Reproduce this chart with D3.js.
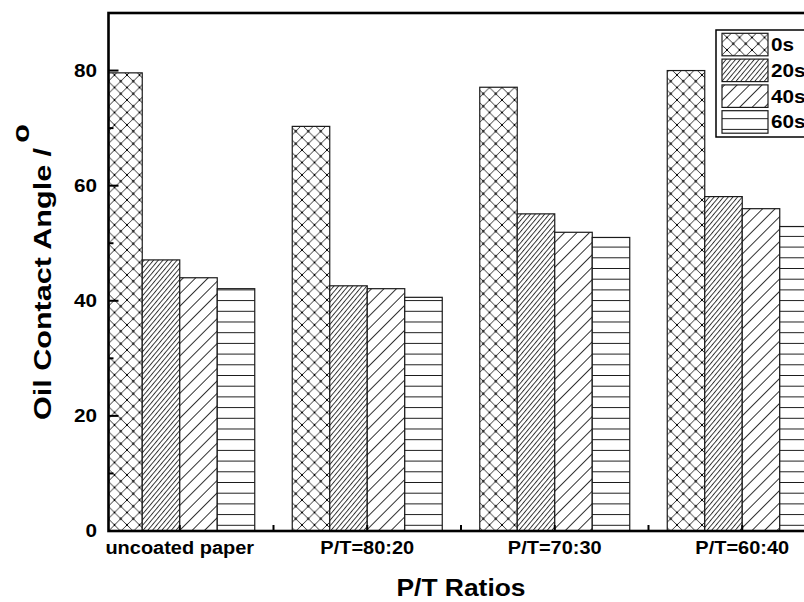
<!DOCTYPE html>
<html><head><meta charset="utf-8">
<script src="https://cdn.jsdelivr.net/npm/d3@7"></script>
<style>html,body{margin:0;padding:0;overflow:hidden;background:#fff}</style>
</head><body><svg id="c" width="804" height="602"></svg>
<script>
const categories = ["uncoated paper", "P/T=80:20", "P/T=70:30", "P/T=60:40"];
const seriesNames = ["0s", "20s", "40s", "60s"];
const values0s  = [79.6, 70.3, 77.1, 80.0];
const values20s = [47.1, 42.6, 55.1, 58.1];
const values40s = [44.0, 42.1, 51.9, 56.0];
const values60s = [42.1, 40.6, 51.0, 52.9];
const yTicks = [0, 20, 40, 60, 80];
const yMinorTicks = [10, 30, 50, 70];

const seriesValues = [values0s, values20s, values40s, values60s];
const patternIds = ["pCross", "pDense", "pSparse", "pHoriz"];

const svg = d3.select("#c");
const FONT = "'Liberation Sans', Arial, sans-serif";
const L = 108.5, T = 13, B = 531;
const x = d3.scaleLinear().domain([0.62, 4.45]).range([L, L + 3.83 * 187.5]);
const y = d3.scaleLinear().domain([0, 90]).range([B, T]);
const R = x.range()[1];

// patterns
const defs = svg.append("defs");
const ink = "#1a1a1a";
{
  const p = defs.append("pattern").attr("id", "pCross").attr("patternUnits", "userSpaceOnUse")
    .attr("width", 12.5).attr("height", 12.5).attr("x", 2).attr("y", 0);
  p.append("rect").attr("width", 12.5).attr("height", 12.5).attr("fill", "#fff");
  p.append("path").attr("d", "M0,0L12.5,12.5M12.5,0L0,12.5").attr("stroke", ink).attr("stroke-width", 0.9);
  [[6.25, 6.25], [0, 0], [12.5, 0], [0, 12.5], [12.5, 12.5]].forEach(([cx, cy]) =>
    p.append("circle").attr("cx", cx).attr("cy", cy).attr("r", 1.1).attr("fill", "#000"));
}
{
  const p = defs.append("pattern").attr("id", "pDense").attr("patternUnits", "userSpaceOnUse")
    .attr("width", 3.6).attr("height", 10).attr("patternTransform", "rotate(40)");
  p.append("rect").attr("width", 3.6).attr("height", 10).attr("fill", "#fff");
  p.append("path").attr("d", "M0.5,0V10").attr("stroke", ink).attr("stroke-width", 0.9);
}
{
  const p = defs.append("pattern").attr("id", "pSparse").attr("patternUnits", "userSpaceOnUse")
    .attr("width", 8.8).attr("height", 10).attr("patternTransform", "rotate(45)");
  p.append("rect").attr("width", 8.8).attr("height", 10).attr("fill", "#fff");
  p.append("path").attr("d", "M0.5,0V10").attr("stroke", ink).attr("stroke-width", 0.9);
}
{
  const p = defs.append("pattern").attr("id", "pHoriz").attr("patternUnits", "userSpaceOnUse")
    .attr("width", 10).attr("height", 10.7).attr("y", 0.5);
  p.append("rect").attr("width", 10).attr("height", 10.7).attr("fill", "#fff");
  p.append("path").attr("d", "M0,0.5H10").attr("stroke", ink).attr("stroke-width", 1);
}
defs.append("clipPath").attr("id", "plotClip").append("rect")
  .attr("x", L).attr("y", T).attr("width", R - L).attr("height", B - T);

// bars
const barW = 0.2;
const gBars = svg.append("g").attr("clip-path", "url(#plotClip)");
seriesValues.forEach((vals, si) => {
  gBars.selectAll(null).data(vals).enter().append("rect")
    .attr("x", (d, i) => x(i + 1 - 0.4 + si * barW))
    .attr("width", (d, i) => x(i + 1 - 0.4 + (si + 1) * barW) - x(i + 1 - 0.4 + si * barW))
    .attr("y", d => y(d))
    .attr("height", d => y(0) - y(d))
    .attr("fill", `url(#${patternIds[si]})`)
    .attr("stroke", ink).attr("stroke-width", 1.2);
});

// frame
svg.append("rect").attr("x", L).attr("y", T).attr("width", R - L).attr("height", B - T)
  .attr("fill", "none").attr("stroke", "#000").attr("stroke-width", 2.6);

// y ticks
const gy = svg.append("g");
gy.selectAll(null).data(yTicks).enter().append("line")
  .attr("x1", L).attr("x2", L + 10).attr("y1", d => y(d)).attr("y2", d => y(d))
  .attr("stroke", "#000").attr("stroke-width", 2);
gy.selectAll(null).data(yMinorTicks).enter().append("line")
  .attr("x1", L).attr("x2", L + 5).attr("y1", d => y(d)).attr("y2", d => y(d))
  .attr("stroke", "#000").attr("stroke-width", 2);
gy.selectAll(null).data(yTicks).enter().append("text")
  .attr("transform", d => `translate(97,${y(d)}) scale(1.15,1)`)
  .attr("text-anchor", "end").attr("dy", "0.36em")
  .attr("font-family", FONT).attr("font-weight", "bold").attr("font-size", 18)
  .text(d => d);

// x ticks
const xMajor = categories.map((c, i) => i + 1);
const xMinor = categories.slice(1).map((c, i) => i + 1.5);
const gx = svg.append("g");
gx.selectAll(null).data(xMajor.concat(xMinor)).enter().append("line")
  .attr("x1", d => x(d)).attr("x2", d => x(d)).attr("y1", B).attr("y2", B - 6)
  .attr("stroke", "#000").attr("stroke-width", 2);
gx.selectAll(null).data(categories).enter().append("text")
  .attr("transform", (d, i) => `translate(${x(i + 1)},554) scale(1.08,1)`)
  .attr("text-anchor", "middle")
  .attr("font-family", FONT).attr("font-weight", "bold").attr("font-size", 18.5)
  .text(d => d);

// axis titles
svg.append("text")
  .attr("transform", `translate(461,596) scale(1.1,1)`)
  .attr("text-anchor", "middle")
  .attr("font-family", FONT).attr("font-weight", "bold").attr("font-size", 24)
  .text("P/T Ratios");
const yt = svg.append("text")
  .attr("transform", "translate(51,420) rotate(-90) scale(1.3,1)")
  .attr("font-family", FONT).attr("font-weight", "bold").attr("font-size", 23.5);
yt.append("tspan").text("Oil Contact Angle /");
yt.append("tspan").attr("dx", 4).attr("dy", -22).text("o");

// legend
const lg = svg.append("g");
lg.append("rect").attr("x", 716).attr("y", 30).attr("width", 130).attr("height", 107)
  .attr("fill", "#fff").attr("stroke", "#000").attr("stroke-width", 1.5);
seriesNames.forEach((name, i) => {
  const top = 33.3 + i * 25.8;
  lg.append("rect").attr("x", 722).attr("y", top).attr("width", 46).attr("height", 22.5)
    .attr("fill", `url(#${patternIds[i]})`).attr("stroke", ink).attr("stroke-width", 1.2);
  lg.append("text")
    .attr("transform", `translate(771,${top + 11.3}) scale(1.15,1)`)
    .attr("dy", "0.36em")
    .attr("font-family", FONT).attr("font-weight", "bold").attr("font-size", 18)
    .text(name);
});
</script></body></html>
